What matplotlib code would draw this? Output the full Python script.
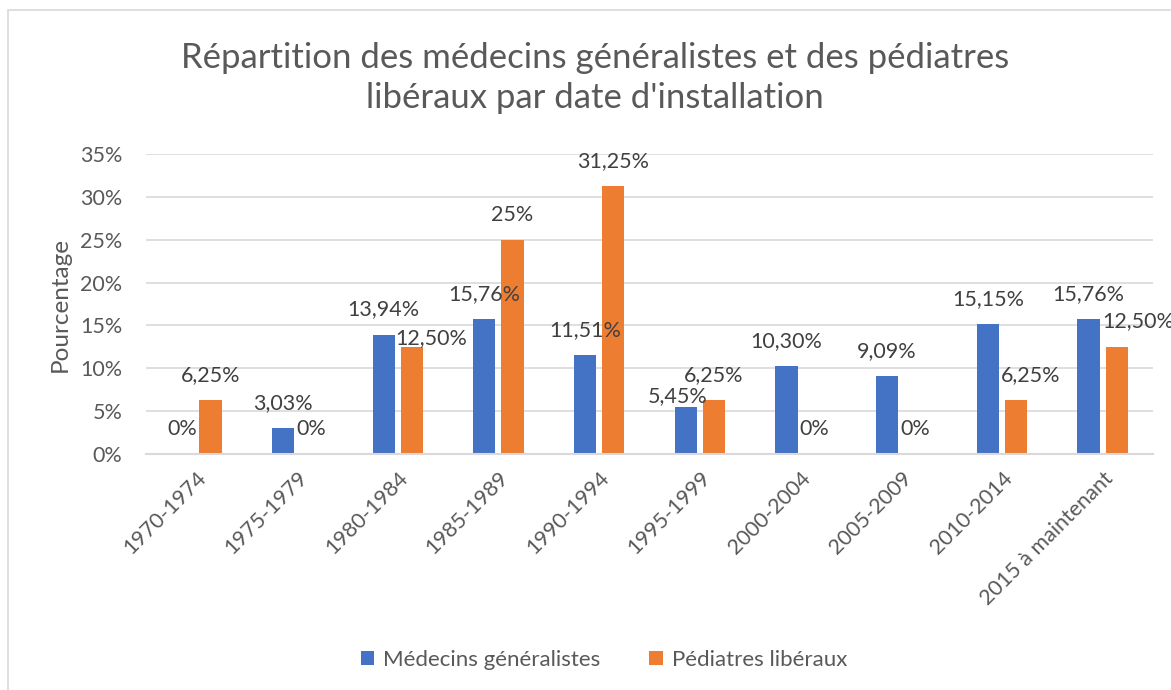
import matplotlib
matplotlib.use("Agg")
import matplotlib.pyplot as plt
import matplotlib.patches as mpatches
import numpy as np

categories = ["1970-1974", "1975-1979", "1980-1984", "1985-1989", "1990-1994",
              "1995-1999", "2000-2004", "2005-2009", "2010-2014", "2015 à maintenant"]
generalistes = [0.0, 3.03, 13.94, 15.76, 11.51, 5.45, 10.30, 9.09, 15.15, 15.76]
pediatres = [6.25, 0.0, 12.50, 25.0, 31.25, 6.25, 0.0, 0.0, 6.25, 12.50]
gen_labels = ["0%", "3,03%", "13,94%", "15,76%", "11,51%", "5,45%", "10,30%", "9,09%", "15,15%", "15,76%"]
ped_labels = ["6,25%", "0%", "12,50%", "25%", "31,25%", "6,25%", "0%", "0%", "6,25%", "12,50%"]
yticks = [0, 5, 10, 15, 20, 25, 30, 35]
ytick_labels = ["0%", "5%", "10%", "15%", "20%", "25%", "30%", "35%"]

# label offsets in pixels (dx, dy from bar top to label centre)
gen_off = [(0, 25)] * 10
gen_off[5] = (-8, 11)
ped_off = [(0, 25)] * 10
ped_off[2] = (19, 9)
ped_off[8] = (15, 25)
ped_off[9] = (21, 26)

BLUE = "#4472C4"
ORANGE = "#ED7D31"
TXT = "#595959"
GRID = "#D9D9D9"
FONT = "Lato"

plt.rcParams['font.family'] = [FONT, 'DejaVu Sans']

fig = plt.figure(figsize=(11.71, 6.90), dpi=100)
ax = fig.add_axes([146/1171, 1 - 454/690, (1153-146)/1171, 300/690])

x = np.arange(len(categories))
w = 0.22
off = 0.14
ax.bar(x - off, generalistes, w, color=BLUE, label="Médecins généralistes", zorder=3)
ax.bar(x + off, pediatres, w, color=ORANGE, label="Pédiatres libéraux", zorder=3)

for i in range(len(categories)):
    ax.annotate(gen_labels[i], (x[i] - off, generalistes[i]), xytext=gen_off[i],
                textcoords='offset pixels', ha='center', va='center',
                fontsize=15.5, color="#404040", zorder=4)
    ax.annotate(ped_labels[i], (x[i] + off, pediatres[i]), xytext=ped_off[i],
                textcoords='offset pixels', ha='center', va='center',
                fontsize=15.5, color="#404040", zorder=4, annotation_clip=False)

ax.set_xlim(-0.5, len(categories) - 0.5)
ax.set_ylim(0, 35)
ax.set_yticks(yticks)
ax.set_yticklabels(ytick_labels, fontsize=15.5, color=TXT)
ax.set_xticks(x)
ax.set_xticklabels(categories, rotation=45, ha='right', rotation_mode='anchor',
                   fontsize=15.5, color=TXT)
ax.tick_params(axis='both', length=0)
ax.tick_params(axis='y', pad=17)
ax.tick_params(axis='x', pad=10)
ax.yaxis.grid(True, color=GRID, linewidth=1.2, zorder=0)
for s in ["top", "right", "left"]:
    ax.spines[s].set_visible(False)
ax.spines["bottom"].set_color(GRID)
ax.spines["bottom"].set_linewidth(1.5)
ax.spines["bottom"].set_zorder(3)

ax.set_ylabel("Pourcentage", fontsize=17.5, color=TXT, labelpad=0)
ax.yaxis.set_label_coords(-(146-71)/1007, 0.5)

fig.text(595/1171, 1 - 78/690,
         "Répartition des médecins généralistes et des pédiatres\nlibéraux par date d'installation",
         ha='center', va='center', fontsize=25, color=TXT, linespacing=1.3)

handles, labels = ax.get_legend_handles_labels()
fig.legend(handles, labels, loc='center', bbox_to_anchor=(604/1171, 1 - 660/690),
           ncol=2, frameon=False, fontsize=16, labelcolor=TXT,
           handlelength=0.6, handleheight=0.6, handletextpad=0.4, columnspacing=2.2)

border = mpatches.Rectangle((8/1171, -0.05), 1.2, 1.05 - 10/690, transform=fig.transFigure,
                            fill=False, edgecolor=GRID, linewidth=1.2, clip_on=False)
fig.patches.append(border)

fig.savefig("out.png", dpi=100)
